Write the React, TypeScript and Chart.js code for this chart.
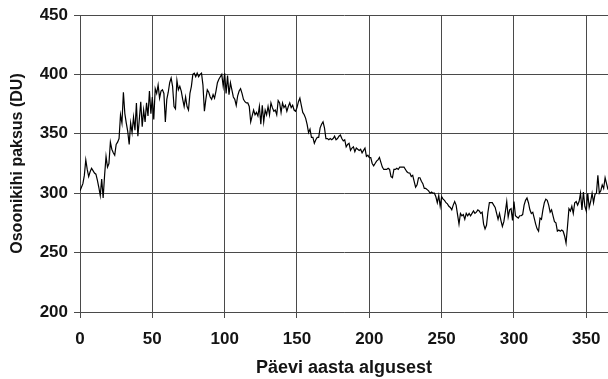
import React, { useEffect, useRef } from "react";
import { Chart, registerables } from "chart.js";

Chart.register(...registerables);

// Daily total ozone (DU), day 0 .. 365
const ozoneDays0to45 = [
  302, 305, 308, 315, 328, 320, 314, 318, 321, 319,
  317, 316, 311, 305, 298, 312, 296, 315, 331, 322,
  325, 343, 337, 334, 332, 341, 343, 346, 366, 359,
  385, 367, 359, 352, 341, 359, 351, 364, 353, 376,
  348, 362, 377, 356, 370, 360,
];
const ozoneDays46to91 = [
  376, 365, 386, 367, 381, 362, 388, 384, 391, 380,
  386, 387, 384, 360, 379, 385, 393, 397, 390, 373,
  371, 395, 387, 390, 386, 379, 373, 381, 373, 370,
  384, 390, 400, 401, 398, 401, 398, 400, 401, 391,
  369, 379, 387, 385, 381, 379,
];
const ozoneDays92to137 = [
  383, 380, 386, 393, 396, 398, 400, 390, 401, 384,
  399, 383, 393, 387, 381, 379, 374, 382, 386, 388,
  384, 379, 377, 376, 376, 373, 360, 365, 370, 366,
  368, 365, 373, 358, 374, 360, 370, 366, 373, 366,
  376, 372, 369, 370, 366, 378,
];
const ozoneDays138to183 = [
  376, 368, 376, 372, 374, 369, 373, 376, 372, 374,
  370, 369, 372, 377, 380, 374, 368, 366, 363, 358,
  351, 354, 347, 347, 342, 345, 347, 347, 355, 358,
  360, 355, 346, 346, 345, 346, 345, 346, 348, 345,
  346, 348, 349, 346, 344, 345,
];
const ozoneDays184to228 = [
  339, 341, 342, 336, 338, 339, 335, 338, 337, 336,
  337, 334, 336, 338, 331, 332, 330, 330, 325, 323,
  325, 327, 328, 330, 326, 322, 320, 320, 320, 321,
  320, 314, 313, 320, 320, 321, 320, 322, 322, 322,
  322, 320, 318, 317, 317,
];
const ozoneDays229to274 = [
  314, 315, 310, 305, 307, 313, 313, 310, 308, 304,
  304, 303, 302, 300, 301, 300, 300, 297, 292, 298,
  289, 297, 295, 294, 292, 291, 289, 288, 286, 290,
  293, 290, 282, 274, 283, 281, 282, 278, 283, 281,
  283, 281, 283, 285, 283, 284,
];
const ozoneDays275to320 = [
  286, 285, 283, 284, 274, 270, 273, 284, 292, 292,
  292, 290, 288, 283, 278, 283, 277, 272, 276, 284,
  293, 280, 286, 287, 277, 293, 281, 280, 279, 281,
  281, 282, 290, 294, 296, 292, 286, 283, 284, 279,
  274, 270, 268, 279, 278, 286,
];
const ozoneDays321to365 = [
  292, 295, 294, 290, 284, 286, 281, 276, 275, 268,
  269, 268, 269, 268, 264, 258, 272, 287, 285, 289,
  283, 292, 293, 290, 293, 300, 286, 301, 289, 285,
  300, 288, 293, 300, 292, 299, 300, 315, 300, 302,
  307, 304, 313, 308, 303,
];

const xTickValues = [0, 50, 100, 150, 200, 250, 300, 350];
const yTickValues = [200, 250, 300, 350, 400, 450];
const xAxisTitle = "Päevi aasta algusest";
const yAxisTitle = "Osoonikihi paksus (DU)";

export default function App() {
  const canvasRef = useRef<HTMLCanvasElement>(null);

  useEffect(() => {
    const values = [
      ...ozoneDays0to45,
      ...ozoneDays46to91,
      ...ozoneDays92to137,
      ...ozoneDays138to183,
      ...ozoneDays184to228,
      ...ozoneDays229to274,
      ...ozoneDays275to320,
      ...ozoneDays321to365,
    ];
    const points = values.map((v, i) => ({ x: i, y: v }));

    const family = "'Liberation Sans', Arial, sans-serif";
    const tickFont = { family, size: 17, weight: "bold" as const };
    const xTitleFont = { family, size: 18, weight: "bold" as const };
    const yTitleFont = { family, size: 16, weight: "bold" as const };
    const textColor = "#141414";
    const gridColor = "#4a4a4a";

    const chart = new Chart(canvasRef.current as HTMLCanvasElement, {
      type: "line",
      data: {
        datasets: [
          {
            data: points,
            borderColor: "#000000",
            borderWidth: 1.2,
            pointRadius: 0,
            tension: 0,
            fill: false,
          },
        ],
      },
      options: {
        animation: false,
        responsive: false,
        devicePixelRatio: 1,
        layout: { padding: { top: 15, left: 0, right: 0, bottom: 0 } },
        plugins: { legend: { display: false }, tooltip: { enabled: false } },
        scales: {
          x: {
            type: "linear",
            min: 0,
            max: 365,
            afterBuildTicks: (s: any) => {
              s.ticks = xTickValues.map((v) => ({ value: v }));
            },
            afterFit: (s: any) => {
              s.height = 67;
              s.paddingLeft = 0;
              s.paddingRight = 0;
            },
            grid: { color: gridColor, lineWidth: 1, tickLength: 6, drawTicks: true },
            border: { display: true, color: gridColor, width: 1 },
            ticks: { padding: 11, font: tickFont, color: textColor, maxRotation: 0, autoSkip: false },
            title: {
              display: true,
              text: xAxisTitle,
              font: xTitleFont,
              color: textColor,
              padding: { top: 0, bottom: 0 },
            },
          },
          y: {
            type: "linear",
            min: 200,
            max: 450,
            afterBuildTicks: (s: any) => {
              s.ticks = yTickValues.map((v) => ({ value: v }));
            },
            afterFit: (s: any) => {
              s.width = 80;
              s.paddingTop = 0;
              s.paddingBottom = 0;
            },
            grid: { color: gridColor, lineWidth: 1, tickLength: 6, drawTicks: true },
            border: { display: true, color: gridColor, width: 1 },
            ticks: { padding: 6, font: tickFont, color: textColor, autoSkip: false },
            title: {
              display: true,
              text: yAxisTitle,
              font: yTitleFont,
              color: textColor,
              padding: { top: 8, bottom: 0 },
            },
          },
        },
      },
    });
    return () => chart.destroy();
  }, []);

  return (
    <div style={{ position: "absolute", left: 0, top: 0, width: 608, height: 379 }}>
      <canvas ref={canvasRef} width={608} height={379} style={{ display: "block" }} />
    </div>
  );
}
